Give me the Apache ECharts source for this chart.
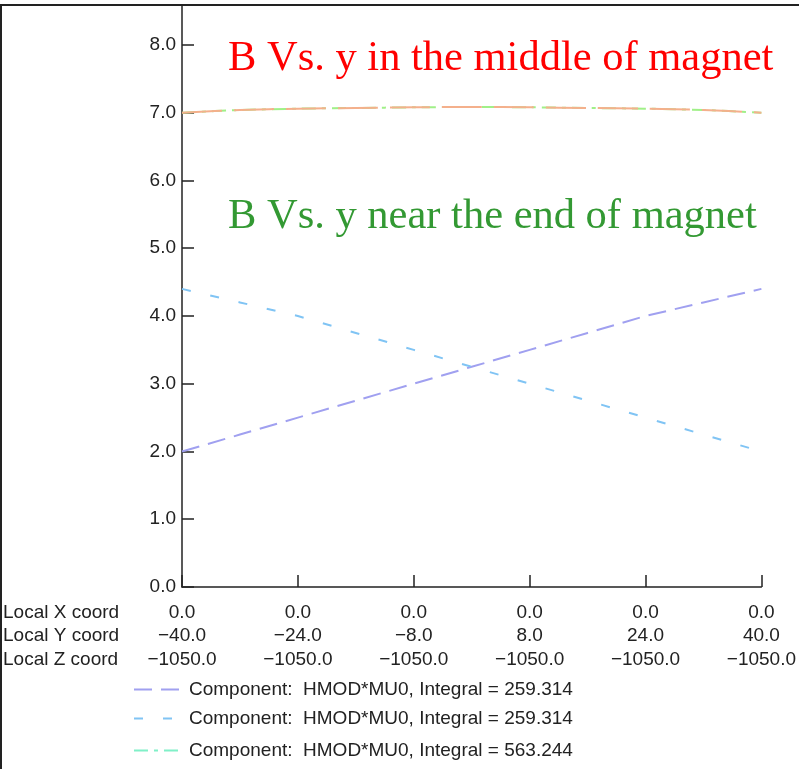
<!DOCTYPE html>
<html>
<head>
<meta charset="utf-8">
<script src="https://cdn.jsdelivr.net/npm/echarts@6/dist/echarts.min.js"></script>
<style>html,body{margin:0;padding:0;background:#fff;}#c{width:799px;height:769px;}</style>
</head>
<body>
<div id="c"></div>
<script>
// ---- data ----
var localY = [-40, -32, -24, -16, -8, 0, 8, 16, 24, 32, 40];
var localX = 0.0;
var localZ = -1050.0;
var seriesA = [2.0, 2.25, 2.5, 2.75, 3.0, 3.25, 3.5, 3.75, 4.0, 4.2, 4.4];
var seriesB = [4.4, 4.2, 4.0, 3.75, 3.5, 3.25, 3.0, 2.75, 2.5, 2.25, 2.0];
var seriesC = [7.0, 7.04, 7.06, 7.07, 7.08, 7.085, 7.08, 7.07, 7.06, 7.04, 7.0];
var seriesD = [7.0, 7.04, 7.06, 7.07, 7.08, 7.085, 7.08, 7.07, 7.06, 7.04, 7.0];
var legendNames = [
  'Component:  HMOD*MU0, Integral = 259.314',
  'Component:  HMOD*MU0, Integral = 259.314 ',
  'Component:  HMOD*MU0, Integral = 563.244'
];
var rowLabels = ['Local X coord', 'Local Y coord', 'Local Z coord'];
var titleMiddle = 'B Vs. y in the middle of magnet';
var titleEnd = 'B Vs. y near the end of magnet';

function pairs(vals) { return localY.map(function (x, i) { return [x, vals[i]]; }); }
function minus(s) { return s.replace('-', '\u2212'); }

var chart = echarts.init(document.getElementById('c'), null, {renderer: 'canvas'});
var font = 'Liberation Sans, Arial, sans-serif';
var legendTops = [675, 704, 736];
var legendLineColors = ['inherit', 'inherit', '#80f0c8'];
function mkLegend(i) {
  return {
    orient: 'horizontal', left: 128, top: legendTops[i], itemWidth: 50, itemHeight: 12, itemGap: 10,
    data: [legendNames[i]], selectedMode: false,
    itemStyle: {opacity: 0},
    lineStyle: {color: legendLineColors[i]},
    textStyle: {fontFamily: font, fontSize: 19, color: '#222'}
  };
}
chart.setOption({
  animation: false,
  backgroundColor: '#fff',
  grid: {left: 182, right: 37, top: 5, bottom: 182, containLabel: false},
  xAxis: {
    type: 'value', min: -40, max: 40, interval: 16,
    axisLine: {onZero: false, lineStyle: {color: '#222', width: 1.5}},
    axisTick: {inside: true, length: 12, lineStyle: {color: '#222', width: 1.5}},
    splitLine: {show: false},
    axisLabel: {
      margin: 14, color: '#222', fontFamily: font, fontSize: 19, lineHeight: 23.5,
      formatter: function (v) {
        return localX.toFixed(1) + '\n' + minus(v.toFixed(1)) + '\n' + minus(localZ.toFixed(1));
      }
    }
  },
  yAxis: {
    type: 'value', min: 0, max: 8.59, interval: 1,
    axisLine: {onZero: false, lineStyle: {color: '#222', width: 1.5}},
    axisTick: {inside: true, length: 12, lineStyle: {color: '#222', width: 1.5}},
    splitLine: {show: false},
    axisLabel: {
      margin: 6, color: '#222', fontFamily: font, fontSize: 19, showMaxLabel: false,
      formatter: function (v) { return Math.abs(v - Math.round(v)) < 1e-6 ? v.toFixed(1) : ''; }
    }
  },
  legend: [mkLegend(0), mkLegend(1), mkLegend(2)],
  series: [
    {name: legendNames[0], type: 'line', symbol: 'none', data: pairs(seriesA),
     color: '#a0a0f0', lineStyle: {color: '#a0a0f0', width: 2, type: [18, 9]}},
    {name: legendNames[1], type: 'line', symbol: 'none', data: pairs(seriesB),
     color: '#80c4f4', lineStyle: {color: '#80c4f4', width: 2, type: [9, 20]}},
    {name: legendNames[2], type: 'line', symbol: 'none', data: pairs(seriesC), smooth: 0.3,
     color: '#90f0c0', lineStyle: {color: '#a0f088', width: 2, type: [14, 6, 4, 6]}},
    {name: 'orange', type: 'line', symbol: 'none', data: pairs(seriesD), smooth: 0.3,
     color: '#f4b08c', lineStyle: {color: '#f4b08c', width: 2, type: [40, 12]}}
  ],
  graphic: [
    {type: 'line', shape: {x1: 0, y1: 5, x2: 799, y2: 5}, style: {stroke: '#222', lineWidth: 2}},
    {type: 'line', shape: {x1: 1, y1: 5, x2: 1, y2: 769}, style: {stroke: '#222', lineWidth: 2}},
    {type: 'text', left: 3, top: 601, style: {text: rowLabels.join('\n'), font: '19px ' + font, fill: '#222', lineHeight: 23.5}},
    {type: 'text', x: 228, y: 59, style: {text: titleMiddle, font: '42.5px Liberation Serif, Times New Roman, serif', fill: '#ff0000', verticalAlign: 'middle'}},
    {type: 'text', x: 228, y: 217, style: {text: titleEnd, font: '42.5px Liberation Serif, Times New Roman, serif', fill: '#339933', verticalAlign: 'middle'}}
  ]
});
</script>
</body>
</html>
